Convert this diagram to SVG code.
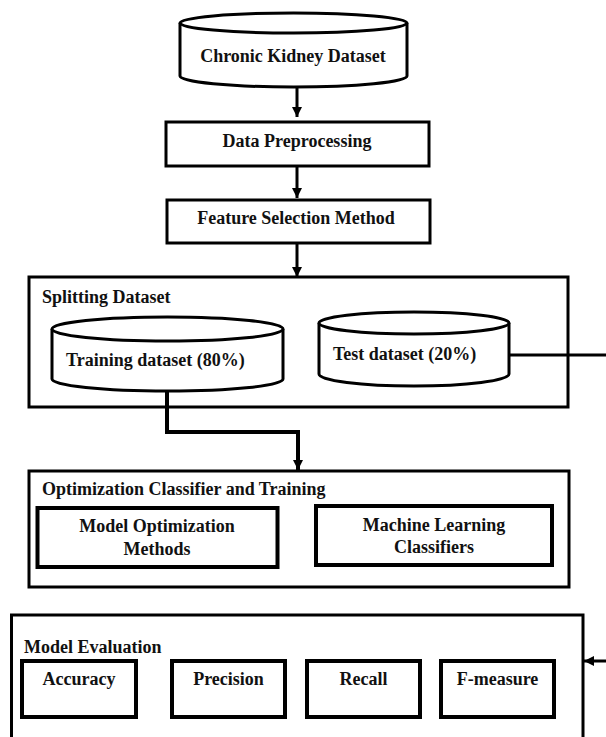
<svg xmlns="http://www.w3.org/2000/svg" width="606" height="737" viewBox="0 0 606 737">
<defs>
<marker id="ah" viewBox="0 0 10 10" refX="10" refY="5" markerWidth="10" markerHeight="10" markerUnits="userSpaceOnUse" orient="auto">
<path d="M0,0 L10,5 L0,10 Z" fill="#000"/>
</marker>
<style>
text{font-family:"Liberation Serif","Times New Roman",serif;font-weight:bold;font-size:18px;fill:#111}
.c{text-anchor:middle}
.box{fill:#fff;stroke:#000;stroke-width:3}
.inner{fill:#fff;stroke:#000;stroke-width:4}
.cyl{fill:#fff;stroke:#000;stroke-width:3}
.conn{fill:none;stroke:#000;stroke-width:3}
</style>
</defs>
<rect width="606" height="737" fill="#fff"/>

<g id="splitting">
<rect class="box" x="29" y="277" width="539" height="130"/>
<text x="42" y="303">Splitting Dataset</text>
</g>
<g id="optimization">
<rect class="box" x="29" y="471" width="540" height="116"/>
<text x="42" y="495">Optimization Classifier and Training</text>
</g>
<g id="evaluation">
<rect class="box" x="11.5" y="615" width="571.5" height="140"/>
<text x="24" y="653">Model Evaluation</text>
</g>

<g id="connectors">
<path class="conn" d="M297,87 V117" marker-end="url(#ah)"/>
<path class="conn" d="M297,166 V198" marker-end="url(#ah)"/>
<path class="conn" d="M297,243 V277" marker-end="url(#ah)"/>
<path class="conn" style="stroke-width:4" d="M167,391 V432 H298 V470" marker-end="url(#ah)"/>
<path class="conn" d="M509,355 H612 V661 H584" marker-end="url(#ah)"/>
</g>

<g id="chronic">
<path class="cyl" d="M180,23 V76 A113.5,11 0 0 0 407,76 V23"/>
<ellipse class="cyl" cx="293.5" cy="23" rx="113.5" ry="10"/>
<text class="c" x="293" y="62">Chronic Kidney Dataset</text>
</g>
<g id="preprocessing">
<rect class="box" x="166" y="122" width="263" height="44"/>
<text class="c" x="297" y="147">Data Preprocessing</text>
</g>
<g id="feature">
<rect class="box" x="167" y="200" width="263" height="43"/>
<text class="c" x="296" y="224">Feature Selection Method</text>
</g>
<g id="training">
<path class="cyl" d="M52,329 V379 A115.5,12 0 0 0 283,379 V329"/>
<ellipse class="cyl" cx="167.5" cy="329" rx="115.5" ry="12"/>
<text x="66" y="366">Training dataset (80%)</text>
</g>
<g id="test">
<path class="cyl" d="M319,323 V374 A95,12 0 0 0 509,374 V323"/>
<ellipse class="cyl" cx="414" cy="323" rx="95" ry="11"/>
<text x="333" y="360">Test dataset (20%)</text>
</g>
<g id="model-opt">
<rect class="inner" x="37.5" y="508" width="240" height="59"/>
<text class="c" x="157" y="532">Model Optimization</text>
<text class="c" x="157" y="555">Methods</text>
</g>
<g id="ml-classifiers">
<rect class="inner" x="316" y="506" width="236" height="59"/>
<text class="c" x="434" y="531">Machine Learning</text>
<text class="c" x="434" y="553">Classifiers</text>
</g>
<g id="accuracy">
<rect class="inner" x="22" y="661" width="114" height="56"/>
<text class="c" x="79" y="685">Accuracy</text>
</g>
<g id="precision">
<rect class="inner" x="172" y="661" width="113" height="56"/>
<text class="c" x="228.5" y="685">Precision</text>
</g>
<g id="recall">
<rect class="inner" x="307" y="661" width="113" height="56"/>
<text class="c" x="363.5" y="685">Recall</text>
</g>
<g id="fmeasure">
<rect class="inner" x="441" y="661" width="113" height="56"/>
<text class="c" x="497.5" y="685">F-measure</text>
</g>
</svg>
